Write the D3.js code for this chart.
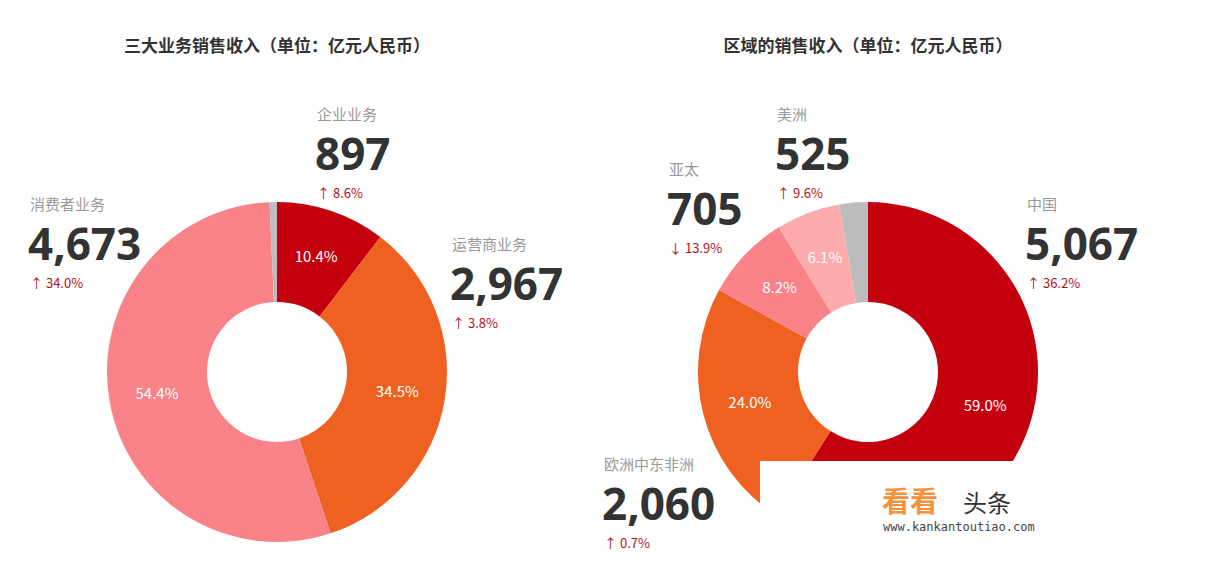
<!DOCTYPE html>
<html lang="zh">
  <head>
    <meta charset="UTF-8" />
    <script src="https://d3js.org/d3.v7.min.js"></script>
    <style>
      body { margin: 0; background: #fff; font-family: "Noto Sans CJK SC", "Open Sans", sans-serif; }
      .title { font-size: 17px; font-weight: bold; fill: #333; }
      .cat { font-size: 15px; fill: #999; }
      .num { font-size: 44px; font-weight: bold; fill: #333; font-family: "Open Sans", sans-serif; }
      .chg { font-size: 13px; fill: #b0101a; }
      .pct { font-size: 15px; fill: #fff; }
    </style>
  </head>
  <body>
    <svg id="chart" width="1206" height="561"></svg>
    <script>
      // left chart: business lines
      const bizNames = ["企业业务", "运营商业务", "消费者业务", "其他"];
      const bizShares = [10.4, 34.5, 54.4, 0.7];
      const bizValues = ["897", "2,967", "4,673", null];
      const bizChanges = ["↑ 8.6%", "↑ 3.8%", "↑ 34.0%", null];

      // right chart: regions
      const regionNames = ["中国", "欧洲中东非洲", "亚太", "美洲", "其他"];
      const regionShares = [59.0, 24.0, 8.2, 6.1, 2.7];
      const regionValues = ["5,067", "2,060", "705", "525", null];
      const regionChanges = ["↑ 36.2%", "↑ 0.7%", "↓ 13.9%", "↑ 9.6%", null];

      const svg = d3.select("#chart");

      const arc = d3.arc().innerRadius(70).outerRadius(170);
      const pie = d3.pie().sort(null).value((d) => d);

      function donut(cx, cy, shares, colors, title) {
        const g = svg.append("g").attr("transform", `translate(${cx},${cy})`);
        const arcs = pie(shares);
        g.selectAll("path")
          .data(arcs)
          .enter()
          .append("path")
          .attr("d", arc)
          .attr("fill", (d, i) => colors[i]);
        g.selectAll(".pct")
          .data(arcs.filter((d) => d.data > 5))
          .enter()
          .append("text")
          .attr("class", "pct")
          .attr("text-anchor", "middle")
          .attr("dy", "0.35em")
          .attr("transform", (d) => {
            const a = (d.startAngle + d.endAngle) / 2;
            return `translate(${Math.sin(a) * 122},${-Math.cos(a) * 122})`;
          })
          .text((d) => d.data.toFixed(1) + "%");
        svg.append("text")
          .attr("class", "title")
          .attr("x", cx)
          .attr("y", 52)
          .attr("text-anchor", "middle")
          .text(title);
      }

      function label(x, y, name, value, change) {
        const g = svg.append("g").attr("transform", `translate(${x},${y})`);
        g.append("text").attr("class", "cat").attr("y", 0).text(name);
        g.append("text").attr("class", "num").attr("x", -2).attr("y", 50).text(value);
        g.append("text").attr("class", "chg").attr("y", 78).text(change);
      }

      donut(277, 372, bizShares, ["#c4000f", "#ef6121", "#fa8289", "#bcbcbc"],
        "三大业务销售收入（单位：亿元人民币）");
      donut(868, 372, regionShares, ["#c4000f", "#ef6121", "#fa8289", "#fdabad", "#bcbcbc"],
        "区域的销售收入（单位：亿元人民币）");

      const bizPos = [[317, 120], [452, 250], [30, 210]];
      bizPos.forEach((p, i) => label(p[0], p[1], bizNames[i], bizValues[i], bizChanges[i]));
      const regionPos = [[1027, 210], [604, 470], [669, 175], [777, 120]];
      regionPos.forEach((p, i) => label(p[0], p[1], regionNames[i], regionValues[i], regionChanges[i]));

      // watermark box
      svg.append("rect").attr("x", 760).attr("y", 461).attr("width", 446).attr("height", 100).attr("fill", "#fff");
      svg.append("text").attr("x", 882).attr("y", 512).attr("font-size", 28).attr("font-weight", "bold")
        .attr("fill", "#f7913a").text("看看");
      svg.append("text").attr("x", 963).attr("y", 512).attr("font-size", 24).attr("fill", "#333").text("头条");
      svg.append("text").attr("x", 883).attr("y", 531).attr("font-size", 12).attr("font-family", "DejaVu Sans Mono")
        .attr("fill", "#444").text("www.kankantoutiao.com");
    </script>
  </body>
</html>
